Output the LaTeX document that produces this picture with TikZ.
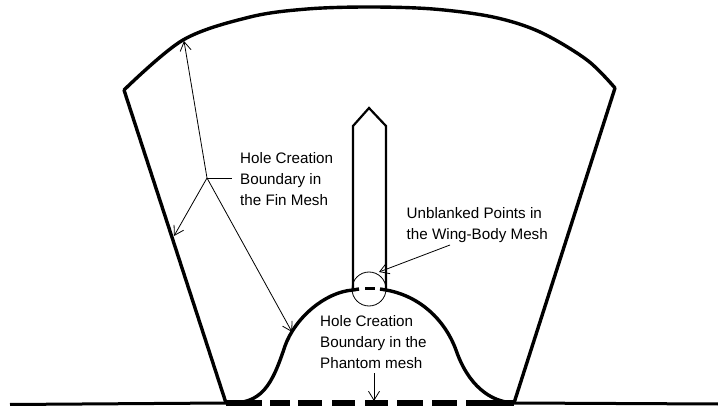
\documentclass[tikz,border=0pt]{standalone}
\usepackage{fontspec}
\setmainfont{Liberation Sans}
\usetikzlibrary{
    arrows.meta,
    positioning
}
\tikzset{
    % Thick outline of the hole boundaries
    boundary/.style={
        line width=3.4pt,
        line join=miter,
    },
    % Wing outline, a bit lighter
    wing/.style={
        line width=2.2pt,
        line join=miter,
    },
    % Thin leader with an open head
    leader/.style={
        -{Straight Barb[length=9pt, width=11pt]},
        line width=0.8pt,
    },
    % Thin leader with no head
    stub/.style={
        line width=0.8pt,
    },
    % Text blocks
    note/.style={
        font=\fontsize{15.2}{21}\selectfont,
        align=left,
        inner sep=0pt,
    },
}
\begin{document}
\begin{tikzpicture}[x=1pt, y=-1pt]
    \useasboundingbox (0,0) rectangle (718,406);

    % Fin mesh outline
    \coordinate (finL) at (124,90);
    \coordinate (finR) at (615,88);
    \coordinate (baseL) at (226,403);
    \coordinate (baseR) at (514,403);
    \draw [boundary] (finL) -- (baseL);
    \draw [boundary] (finR) -- (baseR);
    \draw [boundary, line cap=round] plot [smooth, tension=0.55] coordinates {(finL) (183,40) (250,17) (307,9) (369,7) (433,9) (493,17) (540,32) (587,60) (finR)};

    % Wall
    \coordinate (wallL) at (10,404.5);
    \coordinate (wallR) at (718,404);
    \draw [line width=3pt] (wallL) -- (baseL);
    \draw [line width=3pt] (baseR) -- (wallR);
    \draw [line width=5.5pt, dash pattern=on 36pt off 8pt on 20pt off 8pt on 24pt off 10pt on 23pt off 10pt on 23pt off 9pt on 26pt off 9pt on 25pt off 9pt on 48pt] (baseL) -- (baseR);

    % Phantom mesh bump
    \coordinate (bumpL) at (353,290);
    \coordinate (bumpR) at (386,290);
    \coordinate (bumpEndL) at (359,289);
    \coordinate (bumpEndR) at (380,289);
    \draw [boundary] (baseL) .. controls (262,405) and (272,385) .. (285,346) .. controls (295,318) and (325,292) .. (bumpL) -- (bumpEndL);
    \draw [boundary] (bumpEndR) -- (bumpR) .. controls (420,296) and (445,320) .. (456,350) .. controls (468,385) and (490,402) .. (baseR);
    \coordinate (capL) at (365,288.5);
    \coordinate (capR) at (375,288.5);
    \draw [line width=3pt] (capL) -- (capR);

    % Wing
    \coordinate (tip) at (369,108);
    \draw [wing] (bumpL) -- (353,126) -- (tip) -- (386,126) -- (bumpR);

    % Ring round the unblanked points
    \node (ring) [circle, draw, line width=0.8pt, minimum size=34pt, inner sep=0pt] at (369,289) {};

    % Labels
    \node (finlabel) [note, anchor=west] at (240,179) {Hole Creation\\Boundary in\\the Fin Mesh};
    \node (wbodylabel) [note, anchor=west] at (406.5,225) {Unblanked Points in\\the Wing-Body Mesh};
    \node (phantomlabel) [note, anchor=west] at (320,342) {Hole Creation\\Boundary in the\\Phantom mesh};

    % Leaders
    \coordinate (junction) at (207,178);
    \coordinate (stubend) at (232,178);
    \coordinate (hitTop) at (184,41);
    \coordinate (hitSide) at (174,236);
    \coordinate (hitBump) at (292,332);
    \coordinate (wbodyfoot) at (450,245);
    \coordinate (hitRing) at (379,272);
    \coordinate (phantomfoot) at (374,373);
    \coordinate (hitBase) at (374,401);
    \draw [stub] (junction) -- (stubend);
    \draw [leader] (junction) -- (hitTop);
    \draw [leader] (junction) -- (hitSide);
    \draw [leader] (junction) -- (hitBump);
    \draw [leader] (wbodyfoot) -- (hitRing);
    \draw [leader] (phantomfoot) -- (hitBase);
\end{tikzpicture}
\end{document}
